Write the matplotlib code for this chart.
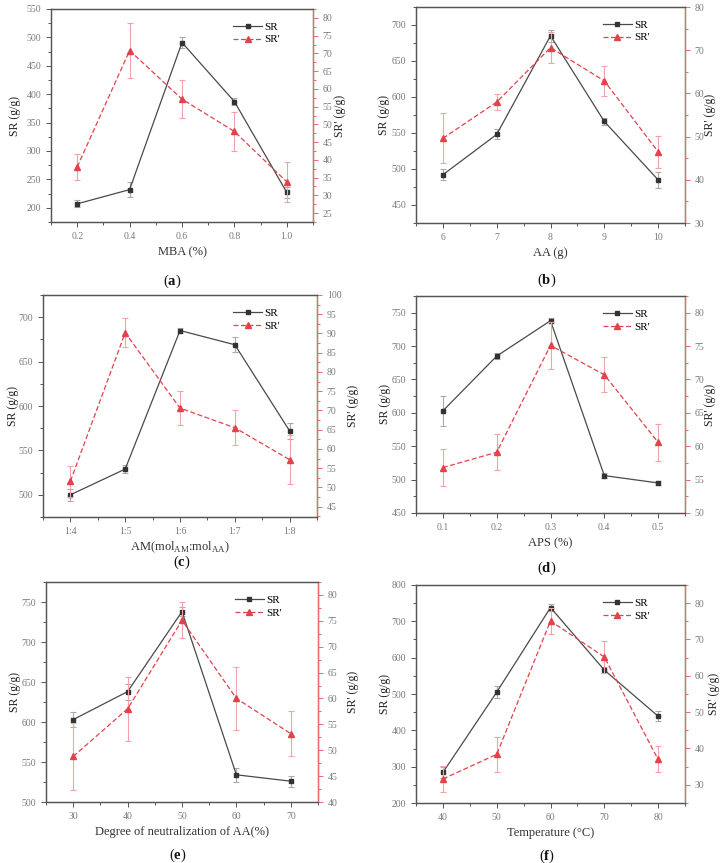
import numpy as np
import matplotlib.pyplot as plt
from matplotlib.ticker import MultipleLocator, AutoMinorLocator

plt.rcParams['font.family'] = ['Liberation Serif', 'DejaVu Serif']
plt.rcParams['mathtext.fontset'] = 'custom'
plt.rcParams['mathtext.rm'] = 'Liberation Serif'
plt.rcParams['mathtext.bf'] = 'Liberation Serif:bold'

W, H = 723, 863

# ---------- data ----------
mba = [0.2, 0.4, 0.6, 0.8, 1.0]
sr_a = [207, 232, 491, 387, 227]
sr_a_err = [6, 13, 10, 6, 10]
srp_a = [38.0, 70.8, 57.1, 48.0, 33.8]
srp_a_err = [3.7, 7.7, 5.3, 5.6, 5.7]

aa = [6, 7, 8, 9, 10]
sr_b = [492, 548, 685, 566, 485]
sr_b_err = [7.5, 7, 8, 4.5, 11]
srp_b = [49.6, 58.0, 70.6, 62.9, 46.5]
srp_b_err = [5.8, 1.8, 3.5, 3.5, 3.7]

am_ratio = ['1:4', '1:5', '1:6', '1:7', '1:8']
sr_c = [500, 529, 685, 669, 572]
sr_c_err = [6.5, 5, 3, 8.7, 9]
srp_c = [51.6, 90.2, 70.6, 65.5, 57.2]
srp_c_err = [4.0, 3.7, 4.4, 4.6, 6.4]

aps = [0.1, 0.2, 0.3, 0.4, 0.5]
sr_d = [603, 685, 738, 506, 495]
sr_d_err = [22, 4, 4, 4, 3]
srp_d = [56.8, 59.1, 75.1, 70.7, 60.6]
srp_d_err = [2.8, 2.7, 3.5, 2.6, 2.8]

neut = [30, 40, 50, 60, 70]
sr_e = [603, 638, 738, 534, 526]
sr_e_err = [9, 10, 6, 8.5, 7]
srp_e = [48.8, 58.0, 75.1, 60.0, 53.2]
srp_e_err = [6.4, 6.2, 3.5, 6.1, 4.4]

temp = [40, 50, 60, 70, 80]
sr_f = [284, 505, 738, 566, 439]
sr_f_err = [15, 16, 10, 8, 13]
srp_f = [31.6, 38.4, 75.1, 65.2, 37.0]
srp_f_err = [3.5, 4.8, 3.5, 4.3, 3.6]

# ---------- colours ----------
c_sr = '#4a4a4a'
c_sr_err = '#aaaaaa'
c_srp = '#e2424b'
c_srp_err = '#f1a3a6'
c_tick = '#7a7a7a'
c_frame = '#555555'
c_right = '#e66a70'


def rect(l, t, r, b):
    return [l / W, 1 - b / H, (r - l) / W, (b - t) / H]


def panel(box, x, sr, sr_err, srp, srp_err, xlim, xticks, ylim, ystep,
          y2lim, y2step, xlabel, caption, cap_x, cap_y, ylab_off, y2lab_off,
          xlabels=None):
    fig_l, fig_t, fig_r, fig_b = box
    ax = fig.add_axes(rect(*box))
    ax2 = ax.twinx()
    pos = np.arange(len(x)) if xlabels is not None else x

    e1 = ax.errorbar(pos, sr, yerr=sr_err, color=c_sr, lw=0.9, marker='s',
                     ms=3.2, mfc='#333333', mec='#333333', ecolor=c_sr_err,
                     elinewidth=0.8, capsize=2.5, capthick=0.8, zorder=3)
    e2 = ax2.errorbar(pos, srp, yerr=srp_err, color=c_srp, lw=0.9, ls=(0, (4, 2)),
                      marker='^', ms=3.8, mfc=c_srp, mec=c_srp, ecolor=c_srp_err,
                      elinewidth=0.8, capsize=2.5, capthick=0.8, zorder=3)

    ax.set_xlim(*xlim)
    ax.set_ylim(*ylim)
    ax2.set_ylim(*y2lim)
    if xlabels is not None:
        ax.set_xticks(pos)
        ax.set_xticklabels(xlabels)
    else:
        ax.set_xticks(xticks)
    ax.xaxis.set_minor_locator(AutoMinorLocator(2))
    ax.yaxis.set_major_locator(MultipleLocator(ystep))
    ax.yaxis.set_minor_locator(AutoMinorLocator(2))
    ax2.yaxis.set_major_locator(MultipleLocator(y2step))
    ax2.yaxis.set_minor_locator(AutoMinorLocator(2))

    for a in (ax, ax2):
        for s in a.spines.values():
            s.set_color(c_frame)
            s.set_linewidth(0.9)
    ax2.spines['right'].set_color(c_right)
    ax.tick_params(which='both', direction='out', colors=c_frame,
                   labelcolor=c_tick, labelsize=7, width=0.7)
    ax.tick_params(which='major', length=3.5)
    ax.tick_params(which='minor', length=2)
    ax.tick_params(axis='x', which='both', top=False)
    ax2.tick_params(which='both', direction='out', colors=c_right,
                    labelcolor=c_tick, labelsize=7, width=0.7)
    ax2.tick_params(which='major', length=3.5)
    ax2.tick_params(which='minor', length=2)

    ax.set_xlabel(xlabel, fontsize=9, color='#333333')
    ax.xaxis.set_label_coords(0.5, -30 / (fig_b - fig_t))
    ax.xaxis.label.set_va('center')
    ax.set_ylabel('SR (g/g)', fontsize=8.5, color='#222222')
    ax.yaxis.set_label_coords(ylab_off / (fig_r - fig_l), 0.5)
    ax.yaxis.label.set_va('center')
    ax2.set_ylabel("SR' (g/g)", fontsize=8.5, color='#222222')
    ax2.yaxis.set_label_coords(1 + y2lab_off / (fig_r - fig_l), 0.5)
    ax2.yaxis.label.set_va('center')

    ax2.legend([e1.lines[0], e2.lines[0]], ['SR', "SR'"], loc='upper left',
               bbox_to_anchor=(0.67, 0.97), frameon=False, fontsize=8,
               handlelength=2.6, handletextpad=0.2, labelspacing=0.25,
               borderaxespad=0.2)

    fig.text(cap_x / W, 1 - cap_y / H, '(' + r'$\mathbf{' + caption + '}$' + ')',
             ha='center', va='center', fontsize=10.5, color='#111111')
    return ax, ax2


fig = plt.figure(figsize=(W / 100, H / 100), dpi=100)

panel((51, 9, 313, 222), mba, sr_a, sr_a_err, srp_a, srp_a_err,
      (0.1, 1.1), mba, (175, 550), 50, (22.5, 82.5), 5,
      'MBA (%)', 'a', 172, 281, -36, 27)

panel((416, 7, 685, 223), aa, sr_b, sr_b_err, srp_b, srp_b_err,
      (5.5, 10.5), aa, (425, 725), 50, (30, 80), 10,
      'AA (g)', 'b', 547, 280, -32, 25)

panel((43, 295, 317, 517), am_ratio, sr_c, sr_c_err, srp_c, srp_c_err,
      (-0.5, 4.5), None, (475, 725), 50, (42.3, 100), 5,
      r'AM(mol$_{\mathrm{AM}}$:mol$_{\mathrm{AA}}$)', 'c', 182, 562, -30, 36,
      xlabels=am_ratio)

panel((416, 296, 685, 513), aps, sr_d, sr_d_err, srp_d, srp_d_err,
      (0.05, 0.55), aps, (450, 775), 50, (50, 82.5), 5,
      'APS (%)', 'd', 547, 568, -31, 25)

panel((46, 582, 318, 802), neut, sr_e, sr_e_err, srp_e, srp_e_err,
      (25, 75), neut, (500, 775), 50, (40, 82.5), 5,
      'Degree of neutralization of AA(%)', 'e', 178, 855, -31, 35)

panel((416, 585, 685, 803), temp, sr_f, sr_f_err, srp_f, srp_f_err,
      (35, 85), temp, (200, 800), 100, (25, 85), 10,
      'Temperature (°C)', 'f', 547, 856, -31, 29)

fig.savefig('out.png', dpi=100)
